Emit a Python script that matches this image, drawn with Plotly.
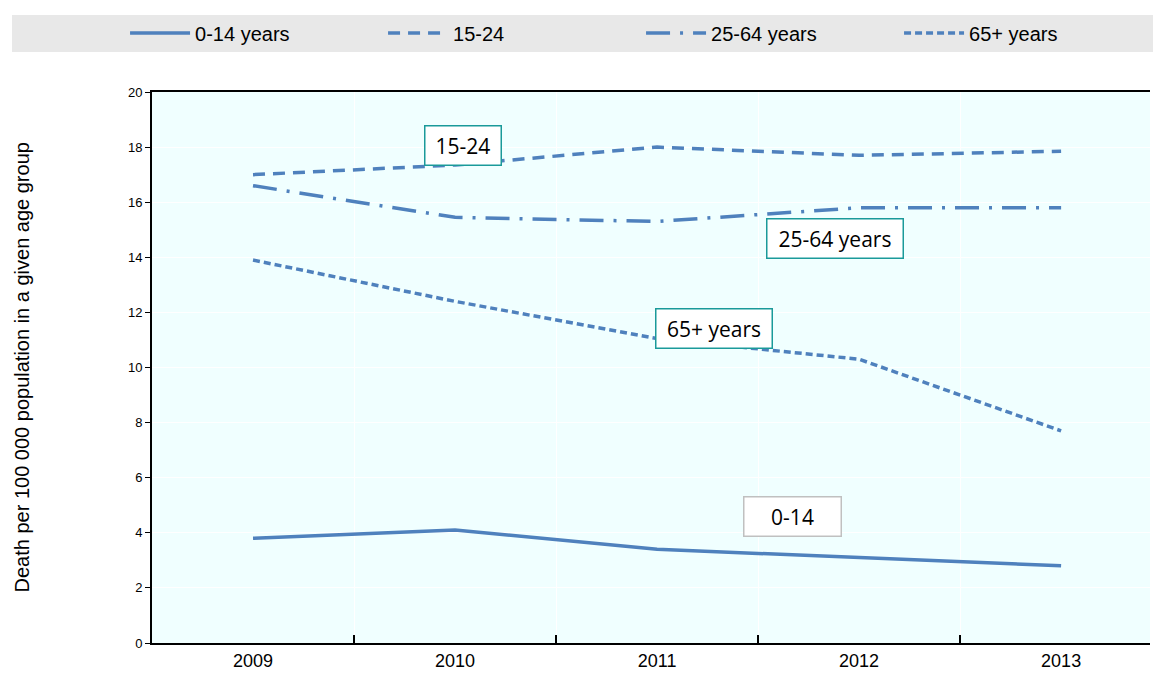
import plotly.graph_objects as go

years = ["2009", "2010", "2011", "2012", "2013"]
age_0_14 = [3.8, 4.1, 3.4, 3.1, 2.8]
age_15_24 = [17.0, 17.35, 18.0, 17.7, 17.85]
age_25_64 = [16.6, 15.45, 15.3, 15.8, 15.8]
age_65_plus = [13.9, 12.4, 11.05, 10.3, 7.7]

BLUE = "#4F81BD"
SANS = "Liberation Sans, Arial"

series = [
    ("0-14 years", age_0_14, "solid"),
    ("15-24", age_15_24, "12px,8px"),
    ("25-64 years", age_25_64, "24px,10px,3px,10px"),
    ("65+ years", age_65_plus, "7px,4px"),
]

fig = go.Figure()
for name, vals, dash in series:
    fig.add_trace(
        go.Scatter(
            x=years,
            y=vals,
            name=name,
            mode="lines",
            line=dict(color=BLUE, width=3.5, dash=dash),
        )
    )

# label boxes on the lines
labels = [
    ("15-24", 1.04, 18.05, 73, "#1A9A9A"),
    ("25-64 years", 2.88, 14.7, 133, "#1A9A9A"),
    ("65+ years", 2.28, 11.4, 113, "#1A9A9A"),
    ("0-14", 2.67, 4.6, 94, "#C0C0C0"),
]
annotations = [
    dict(
        text=txt,
        x=xv,
        y=yv,
        xref="x",
        yref="y",
        showarrow=False,
        width=w,
        height=36,
        bgcolor="white",
        bordercolor=bc,
        borderwidth=1.5,
        font=dict(family="Open Sans, Lato, sans-serif", size=21, color="black"),
    )
    for txt, xv, yv, w, bc in labels
]
annotations.append(
    dict(
        text="Death per 100 000 population in a given age group",
        x=-0.1303,
        y=0.5,
        xref="paper",
        yref="paper",
        xanchor="center",
        yanchor="middle",
        textangle=-90,
        showarrow=False,
        font=dict(family=SANS, size=20, color="black"),
    )
)

fig.update_layout(
    width=1153,
    height=675,
    margin=dict(l=152, r=3, t=92, b=32, autoexpand=False),
    paper_bgcolor="white",
    plot_bgcolor="#F0FFFF",
    annotations=annotations,
    shapes=[
        dict(
            type="rect",
            xref="paper",
            yref="paper",
            x0=-0.1403,
            x1=1.01,
            y0=1.0726,
            y1=1.1397,
            fillcolor="#E8E8E8",
            line_width=0,
            layer="below",
        )
    ],
    legend=dict(
        orientation="h",
        x=-0.027,
        y=1.107,
        xanchor="left",
        yanchor="middle",
        bgcolor="rgba(0,0,0,0)",
        entrywidth=183,
        entrywidthmode="pixels",
        font=dict(family=SANS, size=20, color="black"),
        itemwidth=60,
    ),
    showlegend=True,
)

fig.update_xaxes(
    type="category",
    range=[-0.5, 4.44],
    tickson="boundaries",
    ticks="inside",
    ticklen=8,
    tickwidth=1.5,
    tickcolor="black",
    showgrid=True,
    gridcolor="white",
    gridwidth=1,
    showline=True,
    linecolor="black",
    linewidth=2,
    mirror=True,
    tickfont=dict(family=SANS, size=18, color="black"),
)
fig.update_yaxes(
    range=[0, 20],
    dtick=2,
    ticks="outside",
    ticklen=5,
    tickcolor="black",
    showgrid=True,
    gridcolor="white",
    gridwidth=1,
    zeroline=False,
    showline=True,
    linecolor="black",
    linewidth=2,
    tickfont=dict(family=SANS, size=13, color="black"),
)

# drop the browser's default body margin so the figure fills the window
fig.write_html(
    "out.html",
    config={"displayModeBar": False},
    post_script="document.body.style.margin='0';",
)
